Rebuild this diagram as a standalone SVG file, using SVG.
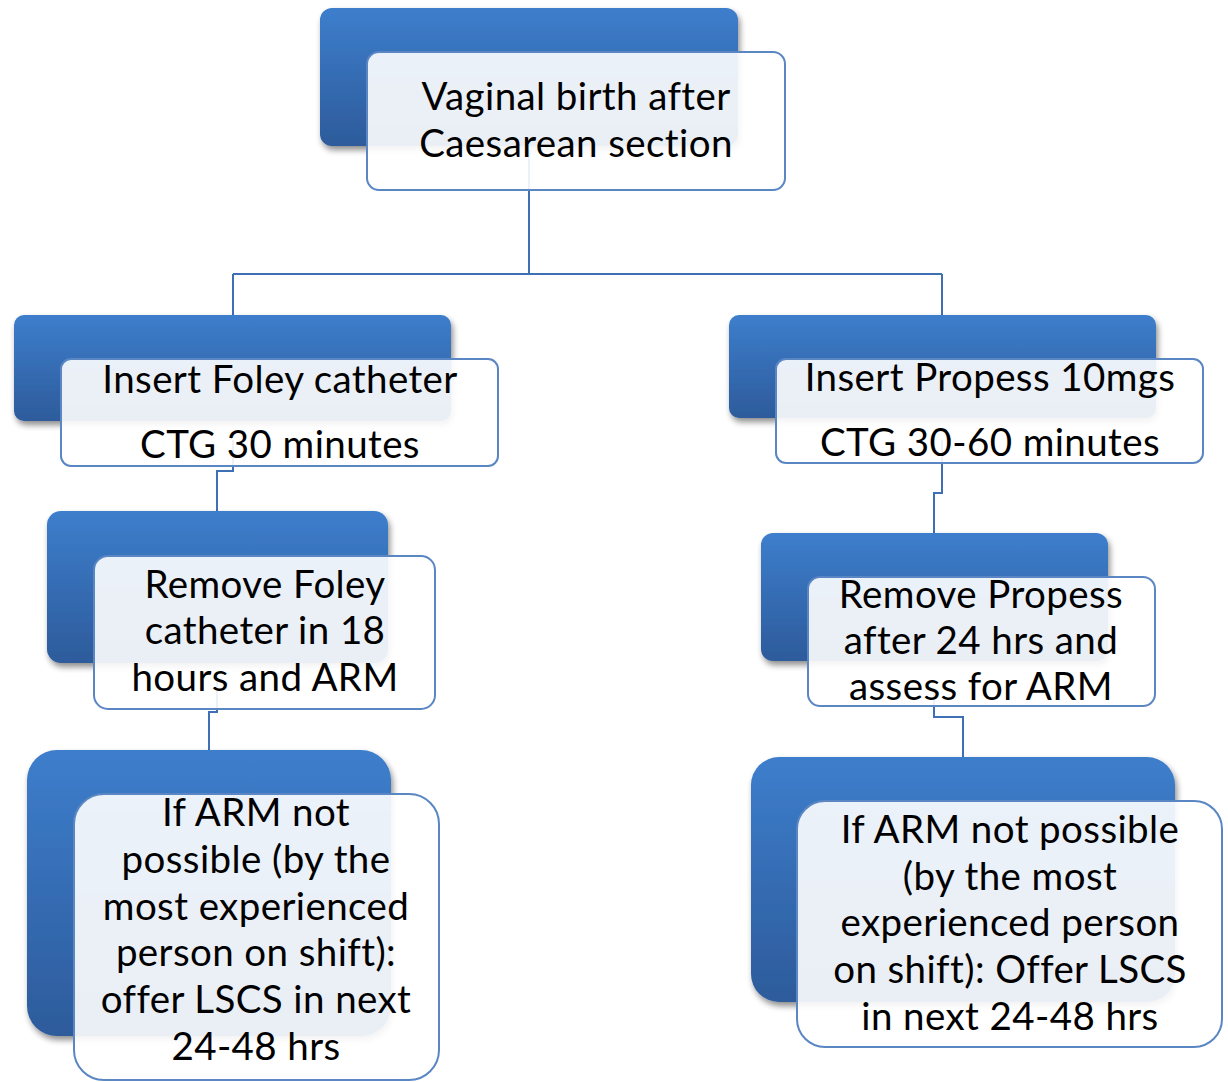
<svg xmlns="http://www.w3.org/2000/svg" width="1228" height="1082" viewBox="0 0 1228 1082">
<defs>
<linearGradient id="g" x1="0" y1="0" x2="0" y2="1">
<stop offset="0" stop-color="#3d7ecc"/>
<stop offset="1" stop-color="#2d5b9b"/>
</linearGradient>
<filter id="sh" x="-10%" y="-10%" width="125%" height="130%">
<feGaussianBlur in="SourceAlpha" stdDeviation="3"/>
<feOffset dx="2" dy="4" result="b"/>
<feComponentTransfer><feFuncA type="linear" slope="0.45"/></feComponentTransfer>
<feMerge><feMergeNode/><feMergeNode in="SourceGraphic"/></feMerge>
</filter>
</defs>
<style>
.back{fill:url(#g);filter:url(#sh)}
.front{fill:#ffffff;fill-opacity:0.9;stroke:#5a86c3;stroke-width:2}
.t{font-family:Lato,"Open Sans",sans-serif;font-size:38.5px;letter-spacing:0.4px;fill:#000;text-anchor:middle}
.c{fill:none;stroke:#3f6fb5;stroke-width:2}
</style>
<rect width="1228" height="1082" fill="#fff"/>
<g id="connectors">
<path class="c" d="M529 150V274M233 274H942M233 274V315M942 274V315"/>
<path class="c" d="M233 440V471H217V511"/>
<path class="c" d="M217 680V712H209V750"/>
<path class="c" d="M942 440V493H934V533"/>
<path class="c" d="M934 690V717H963V757"/>
</g>
<g id="n1">
<rect class="back" x="320" y="8" width="418" height="138" rx="12"/>
<rect class="front" x="367" y="52" width="418" height="138" rx="12"/>
<text class="t" x="576" y="110">Vaginal birth after</text>
<text class="t" x="576" y="157">Caesarean section</text>
</g>
<g id="n2">
<rect class="back" x="14" y="315" width="437" height="106" rx="10"/>
<rect class="front" x="61" y="359" width="437" height="107" rx="10"/>
<text class="t" x="280" y="393">Insert Foley catheter</text>
<text class="t" x="280" y="458">CTG 30 minutes</text>
</g>
<g id="n3">
<rect class="back" x="729" y="315" width="427" height="103" rx="10"/>
<rect class="front" x="776" y="359" width="427" height="104" rx="10"/>
<text class="t" x="990" y="391">Insert Propess 10mgs</text>
<text class="t" x="990" y="456">CTG 30-60 minutes</text>
</g>
<g id="n4">
<rect class="back" x="47" y="511" width="341" height="152" rx="14"/>
<rect class="front" x="94" y="556" width="341" height="153" rx="14"/>
<text class="t" x="265" y="598">Remove Foley</text>
<text class="t" x="265" y="644">catheter in 18</text>
<text class="t" x="265" y="691">hours and ARM</text>
</g>
<g id="n5">
<rect class="back" x="761" y="533" width="347" height="128" rx="12"/>
<rect class="front" x="808" y="577" width="347" height="129" rx="12"/>
<text class="t" x="981" y="608">Remove Propess</text>
<text class="t" x="981" y="654">after 24 hrs and</text>
<text class="t" x="981" y="700">assess for ARM</text>
</g>
<g id="n6">
<rect class="back" x="27" y="750" width="364" height="286" rx="30"/>
<rect class="front" x="74" y="794" width="365" height="286" rx="30"/>
<text class="t" x="256" y="826">If ARM not</text>
<text class="t" x="256" y="873">possible (by the</text>
<text class="t" x="256" y="920">most experienced</text>
<text class="t" x="256" y="966">person on shift):</text>
<text class="t" x="256" y="1013">offer LSCS in next</text>
<text class="t" x="256" y="1060">24-48 hrs</text>
</g>
<g id="n7">
<rect class="back" x="751" y="757" width="424" height="245" rx="28"/>
<rect class="front" x="797" y="801" width="425" height="246" rx="28"/>
<text class="t" x="1010" y="843">If ARM not possible</text>
<text class="t" x="1010" y="890">(by the most</text>
<text class="t" x="1010" y="936">experienced person</text>
<text class="t" x="1010" y="983">on shift): Offer LSCS</text>
<text class="t" x="1010" y="1030">in next 24-48 hrs</text>
</g>
</svg>
